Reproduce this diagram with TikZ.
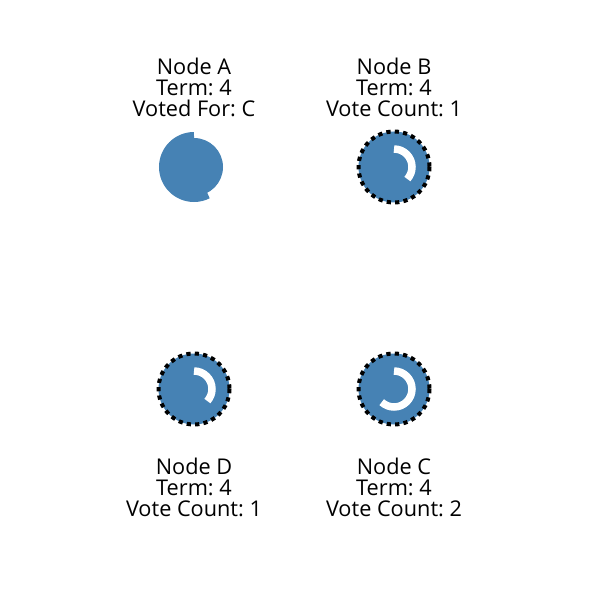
\documentclass[tikz,border=0pt]{standalone}
\usepackage{fontspec}
\setmainfont{Open Sans}
\frenchspacing
\usetikzlibrary{calc}
\definecolor{steel}{HTML}{4682B4}
\tikzset{
  lbl/.style={align=center, font=\fontsize{21.7}{21}\selectfont, inner sep=0pt},
  candidate/.style={draw=black, line width=4pt, dash pattern=on 4.2pt off 4.2pt},
  timer/.style={draw=white, line width=7.5pt},
  ring/.style={draw=steel, line width=8pt},
}
\begin{document}
\begin{tikzpicture}[x=1pt,y=-1pt]
\useasboundingbox (0,0) rectangle (599,593);
% centres (y grows downward; angle 270 points up, angles grow clockwise)
\coordinate (A) at (194,167);
\coordinate (B) at (394,167);
\coordinate (D) at (194,389);
\coordinate (C) at (394,389);
% Node A (follower)
\fill[steel] (A) circle[radius=29];
\draw[ring] ($(A)+(0,-31)$) arc[start angle=270, end angle=63, radius=31];
% Node B (candidate)
\draw[candidate, fill=steel] (B) circle[radius=35.5];
\draw[timer] ($(B)+(0,-18)$) arc[start angle=270, end angle=402, radius=18];
% Node D (candidate)
\draw[candidate, fill=steel] (D) circle[radius=35.5];
\draw[timer] ($(D)+(0,-18)$) arc[start angle=270, end angle=402, radius=18];
% Node C (candidate)
\draw[candidate, fill=steel] (C) circle[radius=35.5];
\draw[timer] ($(C)+(0,-18)$) arc[start angle=270, end angle=493, radius=18];
% labels
\node[lbl] (la) at (194,87) {Node A\\Term: 4\\Voted For: C};
\node[lbl] (lb) at (394,87) {Node B\\Term: 4\\Vote Count: 1};
\node[lbl] (ld) at (194,487) {Node D\\Term: 4\\Vote Count: 1};
\node[lbl] (lc) at (394,487) {Node C\\Term: 4\\Vote Count: 2};
\end{tikzpicture}
\end{document}
